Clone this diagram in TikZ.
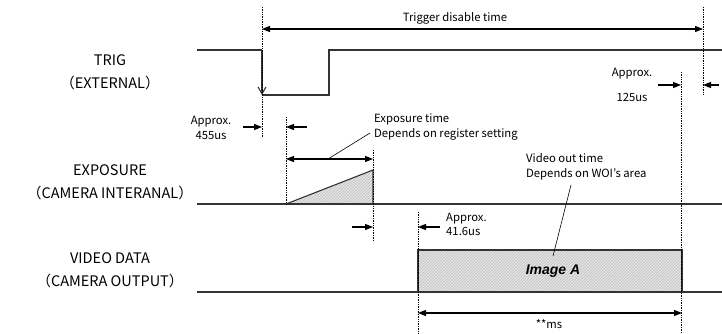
\documentclass[tikz,border=0pt]{standalone}
\usepackage{fontspec}
\setmainfont{Noto Sans CJK JP}
\newfontfamily\imgfont{Liberation Sans}
\usetikzlibrary{arrows.meta,patterns}

\begin{document}
\begin{tikzpicture}[
  x=1pt,y=-1pt,
  >={Triangle[length=8pt,width=6pt]},
  every node/.style={font=\fontsize{11.3}{15.5}\selectfont,inner sep=0pt},
  signal label/.style={font=\fontsize{14.5}{23}\selectfont,align=center},
  note/.style={align=left,anchor=west},
  wave/.style={draw=black!80,line width=1.1pt},
  guide/.style={densely dotted,line width=0.7pt},
  dim/.style={line width=1.1pt},
  leader/.style={line width=0.6pt},
  hatched/.style={preaction={fill=gray!22},pattern=north east lines,pattern color=gray!50},
]
\useasboundingbox (0,0) rectangle (722,333);
\node[signal label] (trig) at (110,72) {TRIG\\（EXTERNAL）};
\node[signal label] (expo) at (110,182) {EXPOSURE\\（CAMERA INTERANAL）};
\node[signal label] (video) at (110,270) {VIDEO DATA\\（CAMERA OUTPUT）};
\coordinate (t0) at (197,50);
\coordinate (t1) at (262,50);
\coordinate (t2) at (262,95);
\coordinate (t3) at (329,95);
\coordinate (t4) at (329,50);
\coordinate (t5) at (722,50);
\coordinate (e0) at (197,204);
\coordinate (e1) at (286,204);
\coordinate (e2) at (373,204);
\coordinate (e3) at (373,170);
\coordinate (e5) at (722,204);
\coordinate (v0) at (197,292);
\coordinate (v5) at (722,292);
\node[draw=black!80,line width=1.1pt,hatched,minimum width=264pt,minimum height=42pt] (img) at (550,271) {};
\node[font=\imgfont\fontsize{14}{16}\selectfont\bfseries\itshape] (imgA) at (553,271) {Image A};
\draw[wave] (t0) -- (t1);
\draw[wave,-{Straight Barb[length=7pt,width=8pt]}] (t1) -- (t2);
\draw[wave] (t2) -- (t3) -- (t4) -- (t5);
\draw[wave,hatched] (e1) -- (e3) -- (e2) -- cycle;
\draw[wave] (e0) -- (e5);
\draw[wave] (v0) -- (v5);
\coordinate (g1a) at (262,7);
\coordinate (g1b) at (262,137);
\coordinate (g2a) at (703,7);
\coordinate (g2b) at (703,95);
\coordinate (g3a) at (681,72);
\coordinate (g3b) at (681,333);
\coordinate (g4a) at (286,117);
\coordinate (g4b) at (286,204);
\coordinate (g5a) at (373,150);
\coordinate (g5b) at (373,241);
\coordinate (g6a) at (418,212);
\coordinate (g6b) at (418,333);
\draw[guide] (g1a) -- (g1b);
\draw[guide] (g2a) -- (g2b);
\draw[guide] (g3a) -- (g3b);
\draw[guide] (g4a) -- (g4b);
\draw[guide] (g5a) -- (g5b);
\draw[guide] (g6a) -- (g6b);
\coordinate (d1a) at (262,29);
\coordinate (d1b) at (703,29);
\draw[dim,<->] (d1a) -- (d1b);
\node (distxt) at (455,18) {Trigger disable time};
\coordinate (d2a) at (243,127);
\coordinate (d2b) at (262,127);
\coordinate (d2c) at (307,127);
\coordinate (d2d) at (286,127);
\draw[dim,->] (d2a) -- (d2b);
\draw[dim,->] (d2c) -- (d2d);
\coordinate (d3a) at (286,159);
\coordinate (d3b) at (373,159);
\draw[dim,<->] (d3a) -- (d3b);
\coordinate (d4a) at (658,85);
\coordinate (d4b) at (681,85);
\coordinate (d4c) at (719,85);
\coordinate (d4d) at (703,85);
\draw[dim,->] (d4a) -- (d4b);
\draw[dim,->] (d4c) -- (d4d);
\coordinate (d5a) at (352,227);
\coordinate (d5b) at (373,227);
\coordinate (d5c) at (440,227);
\coordinate (d5d) at (418,227);
\draw[dim,->] (d5a) -- (d5b);
\draw[dim,->] (d5c) -- (d5d);
\coordinate (d6a) at (418,313);
\coordinate (d6b) at (682,313);
\draw[dim,<->] (d6a) -- (d6b);
\node[align=center] (a455) at (211,128) {Approx.\\455us};
\node[align=center,font=\fontsize{11.3}{25}\selectfont] (a125) at (632,85) {Approx.\\125us};
\node[note,font=\fontsize{11.3}{14}\selectfont] (a41) at (446,224) {Approx.\\41.6us};
\node[note] (exptxt) at (374,127) {Exposure time\\Depends on register setting};
\node[note] (vidtxt) at (526,167) {Video out time\\Depends on WOI’s area};
\node (ms) at (549,324) {**ms};
\coordinate (l1a) at (328,159);
\coordinate (l1b) at (370,133);
\draw[leader] (l1a) -- (l1b);
\coordinate (l2a) at (553,256);
\coordinate (l2b) at (571,185);
\draw[leader] (l2a) -- (l2b);
\end{tikzpicture}
\end{document}
